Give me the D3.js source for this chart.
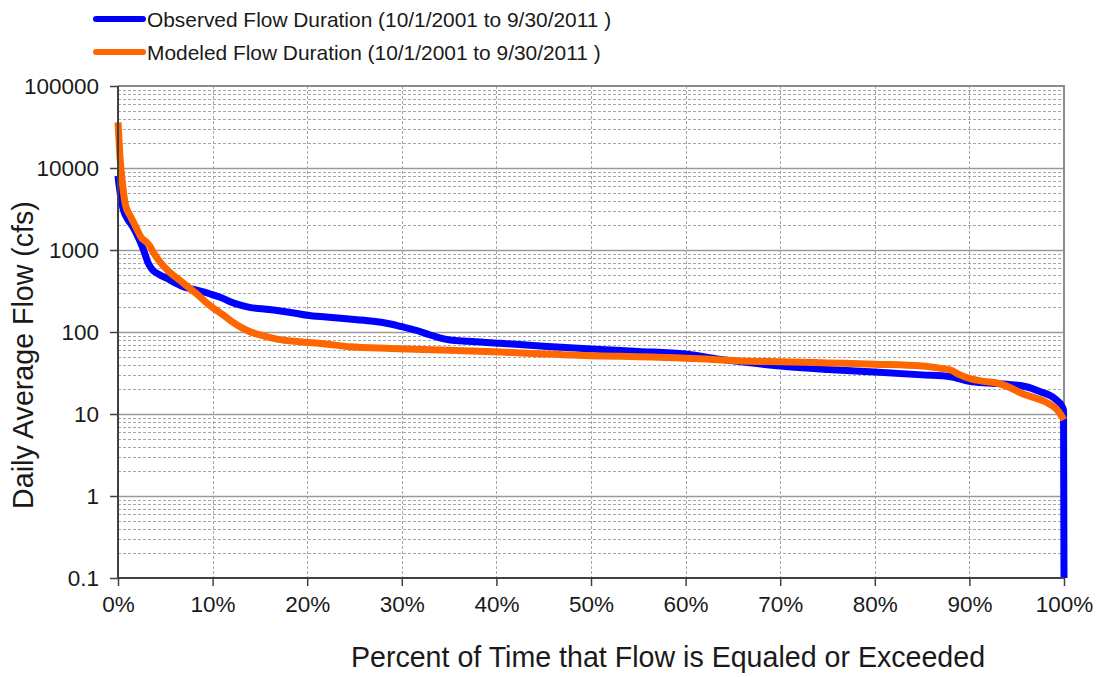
<!DOCTYPE html>
<html>
<head>
<meta charset="utf-8">
<script src="https://cdn.jsdelivr.net/npm/d3@7"></script>
<style>
  html, body { margin: 0; padding: 0; background: #fff; }
  svg { display: block; font-family: "Liberation Sans", Arial, sans-serif; }
</style>
</head>
<body>
<svg id="chart" width="1100" height="677"></svg>
<script>
// ---- Data (percent of time exceeded, flow in cfs) ----
const observedPct = [0, 0.2, 0.56, 1.0, 1.6, 2.3, 2.7, 3.2, 3.6, 4.4, 5.2, 6.2, 6.9, 8.0, 9.4, 10.1, 11, 12, 13.9, 16, 18.9, 20, 22, 25, 27, 28.8, 30, 31.5, 33, 34, 35.1, 37, 40.4, 45, 51, 55, 60, 63.3, 66.8, 70, 75, 80, 85, 88, 90, 92, 94, 96, 97.5, 99, 99.8, 99.95, 100];
const observedCfs = [8000, 5200, 3100, 2400, 1900, 1300, 1000, 690, 580, 500, 450, 390, 357, 330, 300, 282, 260, 230, 200, 188, 168, 160, 152, 142, 135, 125, 116, 105, 92, 85, 80, 77, 73, 67, 61, 58, 54, 47, 42, 38.5, 35, 32.5, 30, 28.5, 25, 23.8, 23, 21.5, 18.7, 15.5, 12.3, 11, 0.1];

const modeledPct = [0, 0.2, 0.5, 0.8, 1.3, 1.8, 2.5, 3.0, 3.4, 3.7, 4.5, 5.5, 6.5, 7.6, 8.5, 9.4, 10.1, 11, 12, 13.6, 15, 16.8, 19.2, 21.7, 24.5, 28.8, 35, 40.4, 45, 51, 55, 60, 63.3, 66.8, 70, 75, 80, 85, 87, 88, 89, 90, 91.5, 93, 94.5, 95.7, 96.5, 98, 99.3, 100];
const modeledCfs = [36000, 14000, 6000, 3500, 2600, 2000, 1400, 1250, 1100, 950, 700, 530, 430, 340, 280, 225, 195, 165, 135, 105, 92, 82, 76, 72, 66, 63, 60, 57, 54, 51, 50, 48, 46, 44, 43.5, 42, 40.5, 38.5, 36, 34.4, 30, 27.2, 25, 23.7, 20.5, 17.5, 16.3, 14.1, 11.2, 8.5];

const xTicks = [0, 10, 20, 30, 40, 50, 60, 70, 80, 90, 100];
const yTicks = [0.1, 1, 10, 100, 1000, 10000, 100000];
const seriesNames = ["Observed Flow Duration (10/1/2001 to 9/30/2011 )", "Modeled Flow Duration (10/1/2001 to 9/30/2011 )"];
const seriesColors = ["#0000ff", "#ff6600"];

// ---- Layout ----
const svg = d3.select("#chart");
const pLeft = 118, pRight = 1064, pTop = 86, pBottom = 578;

const x = d3.scaleLinear().domain([0, 100]).range([pLeft, pRight]);
const y = d3.scaleLog().domain([0.1, 100000]).range([pBottom, pTop]);

const gridColor = "#a6a6a6";

// minor horizontal gridlines (dashed)
const minorVals = [];
yTicks.slice(0, -1).forEach(d => { for (let k = 2; k <= 9; k++) minorVals.push(d * k); });
svg.append("g").selectAll("line").data(minorVals).join("line")
  .attr("x1", pLeft).attr("x2", pRight)
  .attr("y1", d => Math.round(y(d)) + 0.5).attr("y2", d => Math.round(y(d)) + 0.5)
  .attr("stroke", gridColor).attr("stroke-width", 1).attr("stroke-dasharray", "3,2");

// vertical gridlines (dashed)
svg.append("g").selectAll("line").data(xTicks.slice(1, -1)).join("line")
  .attr("x1", d => Math.round(x(d)) + 0.5).attr("x2", d => Math.round(x(d)) + 0.5)
  .attr("y1", pTop).attr("y2", pBottom)
  .attr("stroke", gridColor).attr("stroke-width", 1).attr("stroke-dasharray", "3,2");

// major horizontal gridlines (solid)
svg.append("g").selectAll("line").data(yTicks.slice(1, -1)).join("line")
  .attr("x1", pLeft).attr("x2", pRight)
  .attr("y1", d => Math.round(y(d)) + 0.5).attr("y2", d => Math.round(y(d)) + 0.5)
  .attr("stroke", "#9a9a9a").attr("stroke-width", 1.5);

// top & right border
svg.append("path")
  .attr("d", `M${pLeft},${pTop}H${pRight}V${pBottom}`)
  .attr("fill", "none").attr("stroke", "#8c8c8c").attr("stroke-width", 2);

// series lines
const line = d3.line().x(d => x(d[0])).y(d => y(d[1])).curve(d3.curveMonotoneX);
const obs = observedPct.map((p, i) => [p, observedCfs[i]]);
const mod = modeledPct.map((p, i) => [p, modeledCfs[i]]);

svg.append("path").datum(obs).attr("d", line)
  .attr("fill", "none").attr("stroke", seriesColors[0]).attr("stroke-width", 7)
  .attr("stroke-linejoin", "round");
svg.append("path").datum(mod).attr("d", line)
  .attr("fill", "none").attr("stroke", seriesColors[1]).attr("stroke-width", 7)
  .attr("stroke-linejoin", "round");

// axes
const yAxis = d3.axisLeft(y).tickValues(yTicks).tickSize(8).tickPadding(11)
  .tickFormat(d => d < 1 ? "0.1" : d3.format("d")(d));
const gy = svg.append("g").attr("transform", `translate(${pLeft},0)`).call(yAxis);
const xAxis = d3.axisBottom(x).tickValues(xTicks).tickSize(8).tickPadding(10)
  .tickFormat(d => d + "%");
const gx = svg.append("g").attr("transform", `translate(0,${pBottom})`).call(xAxis);

[gx, gy].forEach(g => {
  g.select(".domain").attr("stroke", "#404040").attr("stroke-width", 2);
  g.selectAll(".tick line").attr("stroke", "#404040").attr("stroke-width", 1.5);
  g.selectAll(".tick text").attr("fill", "#1a1a1a")
    .style("font-family", "'Liberation Sans', Arial, sans-serif").style("font-size", "22.5px");
});
gy.select(".domain").attr("d", `M0,${pBottom}V${pTop}`);
gx.select(".domain").attr("d", `M${pLeft},0H${pRight}`);

// axis titles
svg.append("text")
  .attr("x", 668).attr("y", 667)
  .attr("text-anchor", "middle").attr("fill", "#1a1a1a")
  .style("font-size", "28.6px")
  .text("Percent of Time that Flow is Equaled or Exceeded");

svg.append("text")
  .attr("transform", "translate(33,355) rotate(-90)")
  .attr("text-anchor", "middle").attr("fill", "#1a1a1a")
  .style("font-size", "28.6px")
  .text("Daily Average Flow (cfs)");

// legend
const legend = svg.append("g");
seriesNames.forEach((name, i) => {
  const ly = 19 + i * 33;
  legend.append("line")
    .attr("x1", 96).attr("x2", 143).attr("y1", ly).attr("y2", ly)
    .attr("stroke", seriesColors[i]).attr("stroke-width", 6).attr("stroke-linecap", "round");
  legend.append("text")
    .attr("x", 147).attr("y", ly + 7.5)
    .attr("fill", "#1a1a1a").style("font-size", "20.9px")
    .text(name);
});
</script>
</body>
</html>
